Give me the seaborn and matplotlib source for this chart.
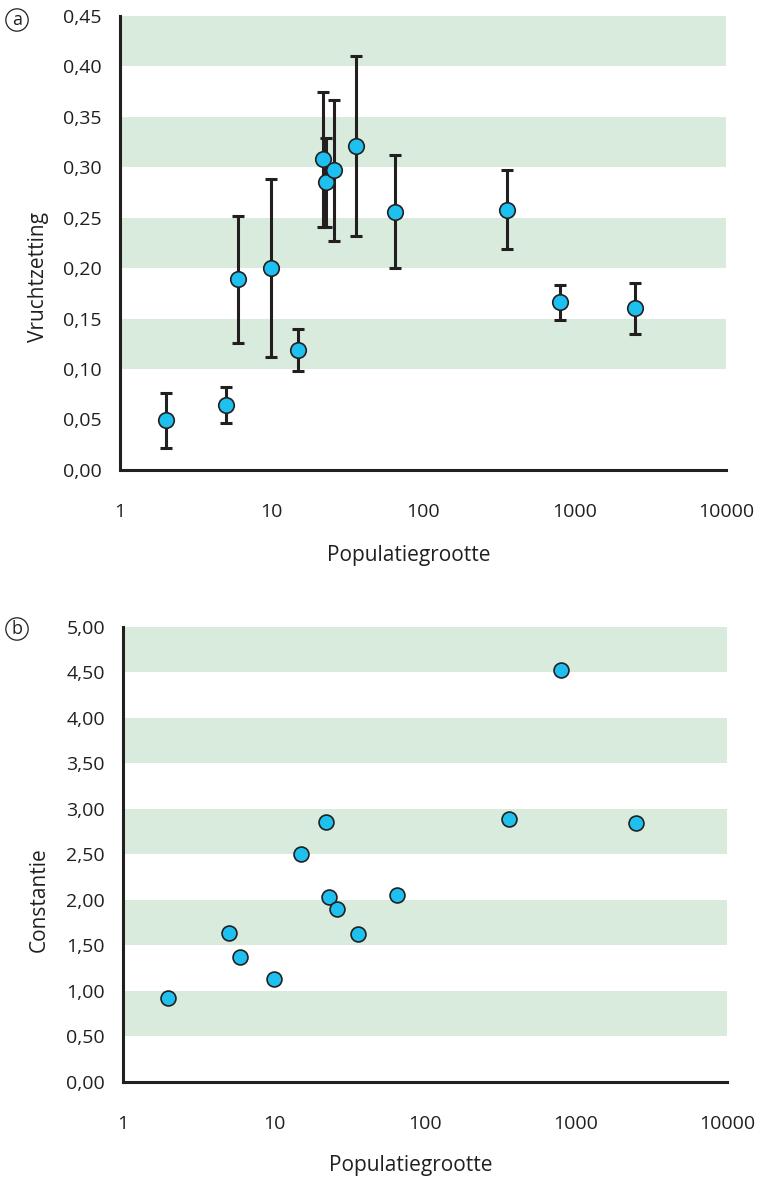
import numpy as np
import pandas as pd
import matplotlib
matplotlib.use("Agg")
import matplotlib.pyplot as plt
from matplotlib.ticker import FixedLocator, FuncFormatter
import seaborn as sns

# ── Data ──────────────────────────────────────────────────────────────────────

pop_size    = [2, 5, 6, 10, 15, 22, 23, 26, 36, 65, 360, 800, 2500]
fruit_set   = [0.049, 0.064, 0.189, 0.200, 0.119, 0.308, 0.285, 0.297,
               0.321, 0.256, 0.258, 0.166, 0.160]
fruit_err   = [0.027, 0.018, 0.063, 0.088, 0.021, 0.067, 0.044, 0.070,
               0.089, 0.056, 0.039, 0.017, 0.025]
constancy   = [0.92, 1.63, 1.37, 1.13, 2.50, 2.85, 2.03, 1.90,
               1.62, 2.05, 2.89, 4.53, 2.84]

x_ticks     = [1, 10, 100, 1000, 10000]
x_ticklbls  = ["1", "10", "100", "1000", "10000"]
y_ticks_a   = [0.00, 0.05, 0.10, 0.15, 0.20, 0.25, 0.30, 0.35, 0.40, 0.45]
y_ticks_b   = [0.0, 0.5, 1.0, 1.5, 2.0, 2.5, 3.0, 3.5, 4.0, 4.5, 5.0]
bands_a     = [0.10, 0.20, 0.30, 0.40]
bands_b     = [0.5, 1.5, 2.5, 3.5, 4.5]

df = pd.DataFrame({"pop": pop_size, "fruit": fruit_set,
                   "err": fruit_err, "const": constancy})

# ── Style ─────────────────────────────────────────────────────────────────────

sns.set_style("white")
plt.rcParams["font.family"] = ["Open Sans", "DejaVu Sans"]

BAND   = "#d8ebdd"
DOT    = "#1ec0ef"
DARK   = "#231f20"
FS     = 14

fig = plt.figure(figsize=(7.71, 11.83), dpi=100)
ax_a = fig.add_axes([0.1556, 0.6028, 0.786, 0.3838])
ax_b = fig.add_axes([0.1595, 0.0856, 0.7834, 0.3846])


def style_axes(ax, yticks, ymax, bands, width):
    ax.set_xscale("log")
    ax.set_xlim(1, 10000)
    ax.set_ylim(0, ymax)
    # alternating green bands
    for lo in bands:
        ax.axhspan(lo, lo + width, color=BAND, lw=0, zorder=0)
    ax.xaxis.set_major_locator(FixedLocator(x_ticks))
    ax.xaxis.set_minor_locator(FixedLocator([]))
    ax.set_xticklabels(x_ticklbls)
    ax.set_yticks(yticks)
    ax.yaxis.set_major_formatter(
        FuncFormatter(lambda v, p: f"{v:.2f}".replace(".", ",")))
    for side in ("top", "right"):
        ax.spines[side].set_visible(False)
    for side in ("left", "bottom"):
        ax.spines[side].set_linewidth(2.2)
        ax.spines[side].set_color(DARK)
    ax.tick_params(axis="both", direction="out", length=5, width=2,
                   color=DARK, labelsize=FS, labelcolor=DARK)
    ax.tick_params(axis="x", pad=19)
    ax.tick_params(axis="y", pad=8)


# ── Panel a: fruit set ────────────────────────────────────────────────────────

style_axes(ax_a, y_ticks_a, 0.45, bands_a, 0.05)
ax_a.errorbar(df["pop"], df["fruit"], yerr=df["err"], fmt="none",
              ecolor=DARK, elinewidth=2.2, capsize=4.5, capthick=2.2,
              zorder=2)
sns.scatterplot(data=df, x="pop", y="fruit", ax=ax_a, s=125, color=DOT,
                edgecolor=DARK, linewidth=1.2, zorder=3, legend=False)
ax_a.set_xlabel("Populatiegrootte", fontsize=FS + 1, color=DARK)
ax_a.set_ylabel("Vruchtzetting", fontsize=FS + 1, color=DARK)
ax_a.xaxis.set_label_coords(0.477, -0.165)
ax_a.yaxis.set_label_coords(-0.117, 0.424)

# ── Panel b: constancy ────────────────────────────────────────────────────────

style_axes(ax_b, y_ticks_b, 5.0, bands_b, 0.5)
sns.scatterplot(data=df, x="pop", y="const", ax=ax_b, s=115, color=DOT,
                edgecolor=DARK, linewidth=1.2, zorder=3, legend=False)
ax_b.set_xlabel("Populatiegrootte", fontsize=FS + 1, color=DARK)
ax_b.set_ylabel("Constantie", fontsize=FS + 1, color=DARK)
ax_b.xaxis.set_label_coords(0.477, -0.160)
ax_b.yaxis.set_label_coords(-0.121, 0.40)

# panel letters
for letter, ypos in (("a", 1 - 20 / 1183), ("b", 1 - 629 / 1183)):
    fig.text(17 / 771, ypos, letter, fontsize=FS - 1, color=DARK,
             ha="center", va="center",
             bbox=dict(boxstyle="circle,pad=0.12", fc="none", ec=DARK, lw=0.9))

fig.savefig("out.png", dpi=100)
